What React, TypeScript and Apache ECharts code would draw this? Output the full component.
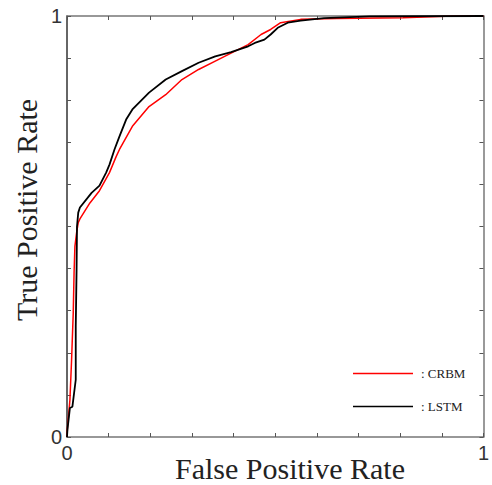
import React, { useEffect, useRef } from "react";
import * as echarts from "echarts";

const crbmFpr = [0, 0.001, 0.007, 0.011, 0.015, 0.017, 0.019, 0.023, 0.027, 0.031, 0.055, 0.078, 0.102, 0.118, 0.126, 0.157, 0.197, 0.237, 0.276, 0.316, 0.356, 0.394, 0.435, 0.466, 0.489, 0.513, 0.561, 0.648, 0.807, 0.926, 1];
const crbmTpr = [0, 0.021, 0.088, 0.183, 0.295, 0.39, 0.453, 0.485, 0.509, 0.518, 0.556, 0.585, 0.628, 0.666, 0.683, 0.738, 0.785, 0.813, 0.849, 0.873, 0.893, 0.912, 0.932, 0.956, 0.968, 0.984, 0.992, 0.994, 0.996, 1.0, 1];
const lstmFpr = [0, 0.001, 0.007, 0.013, 0.021, 0.021, 0.023, 0.024, 0.027, 0.031, 0.059, 0.078, 0.094, 0.102, 0.114, 0.126, 0.142, 0.157, 0.197, 0.237, 0.276, 0.316, 0.356, 0.394, 0.435, 0.451, 0.474, 0.489, 0.506, 0.53, 0.561, 0.617, 0.727, 1];
const lstmTpr = [0, 0.017, 0.069, 0.072, 0.136, 0.262, 0.397, 0.5, 0.533, 0.545, 0.58, 0.597, 0.628, 0.647, 0.683, 0.714, 0.754, 0.778, 0.818, 0.849, 0.869, 0.889, 0.904, 0.914, 0.928, 0.936, 0.944, 0.956, 0.972, 0.984, 0.989, 0.995, 0.999, 1];

const seriesNames = ["CRBM", "LSTM"];
const tickLabels = ["0", "1"];
const xTitle = "False Positive Rate";
const yTitle = "True Positive Rate";

const zip = (a: number[], b: number[]) => a.map((v, i) => [v, b[i]]);

export default function App() {
  const ref = useRef<HTMLDivElement>(null);
  useEffect(() => {
    const chart = echarts.init(ref.current!, null, { renderer: "svg" });
    const labelFmt = (v: number) => (Math.abs(v) < 1e-9 ? tickLabels[0] : Math.abs(v - 1) < 1e-9 ? tickLabels[1] : "");
    const baseAxis = (pos: string, lineColor: string, showLabel: boolean, margin = 6) => ({
      type: "value",
      position: pos,
      min: 0,
      max: 1,
      interval: 0.1,
      splitLine: { show: false },
      axisLine: { show: true, onZero: false, lineStyle: { color: lineColor, width: 1.5 } },
      axisTick: { show: true, inside: true, length: 4, lineStyle: { color: "#555", width: 1 } },
      axisLabel: {
        show: showLabel,
        formatter: labelFmt,
        fontFamily: "Liberation Sans",
        fontSize: 20,
        color: "#333",
        margin,
        showMinLabel: true,
        showMaxLabel: true,
      },
    });
    chart.setOption({
      animation: false,
      backgroundColor: "#fff",
      grid: { left: 67, top: 16, right: 4, bottom: 48, containLabel: false },
      xAxis: [baseAxis("bottom", "#777", true, 6), baseAxis("top", "#777", false)],
      yAxis: [baseAxis("left", "#333", true, 5), baseAxis("right", "#777", false)],
      legend: {
        orient: "vertical",
        left: 353,
        top: 367,
        padding: 0,
        icon: "rect",
        itemWidth: 60,
        itemHeight: 1.5,
        itemGap: 20,
        data: seriesNames,
        formatter: (n: string) => ": " + n,
        textStyle: { fontFamily: "Liberation Serif", fontSize: 13, color: "#222", padding: [0, 0, 0, 3] },
      },
      graphic: [
        {
          type: "text",
          x: 290,
          y: 468,
          style: { text: xTitle, font: "30px 'Liberation Serif'", fill: "#222", textAlign: "center", textVerticalAlign: "middle" },
        },
        {
          type: "text",
          x: 26,
          y: 210,
          rotation: Math.PI / 2,
          style: { text: yTitle, font: "30px 'Liberation Serif'", fill: "#222", textAlign: "center", textVerticalAlign: "middle" },
        },
      ],
      series: [
        {
          name: seriesNames[0],
          type: "line",
          data: zip(crbmFpr, crbmTpr),
          showSymbol: false,
          symbol: "none",
          lineStyle: { color: "#ff0000", width: 1.5 },
          itemStyle: { color: "#ff0000" },
        },
        {
          name: seriesNames[1],
          type: "line",
          data: zip(lstmFpr, lstmTpr),
          showSymbol: false,
          symbol: "none",
          lineStyle: { color: "#000", width: 1.8 },
          itemStyle: { color: "#000" },
        },
      ],
    });
    return () => chart.dispose();
  }, []);
  return <div ref={ref} style={{ position: "fixed", left: 0, top: 0, width: 492, height: 485 }} />;
}
